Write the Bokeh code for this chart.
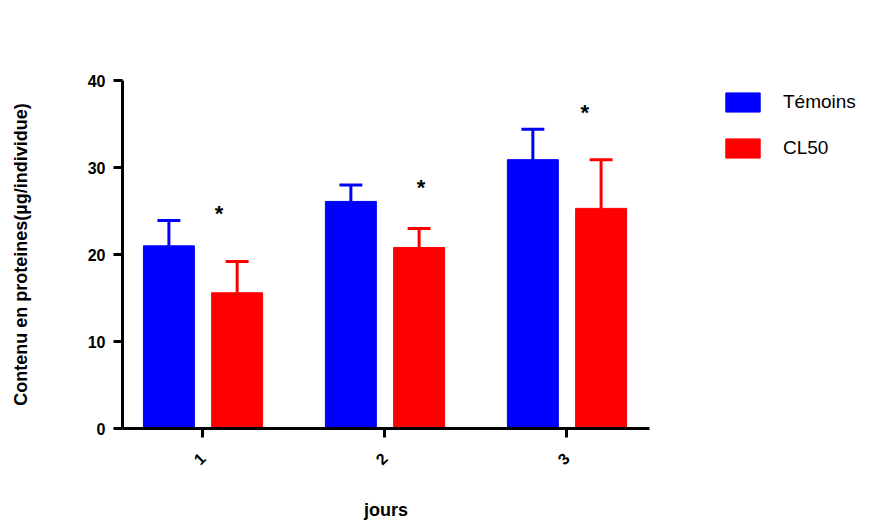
import math
import numpy as np
from bokeh.plotting import figure
from bokeh.models import ColumnDataSource, FixedTicker, Legend, LegendItem, Range1d
from bokeh.core.properties import value
from bokeh.embed import file_html
from bokeh.resources import INLINE

# ---- data ----
days = [1, 2, 3]
day_labels = ["1", "2", "3"]
temoins = [21.0, 26.1, 30.9]
temoins_err = [2.9, 1.9, 3.5]
cl50 = [15.6, 20.8, 25.3]
cl50_err = [3.6, 2.2, 5.6]
star_dx = [0.09, 0.20, 0.10]
star_y = [25.0, 27.9, 36.5]
series_names = ["Témoins", "CL50"]
colors = ["#0000FF", "#FF0000"]

FONT = "Liberation Sans"

p = figure(width=874, height=506, output_backend="svg", toolbar_location=None,
           x_range=Range1d(0.56, 3.456), y_range=Range1d(0, 40),
           frame_width=527, frame_height=348,
           min_border_left=122, min_border_top=80, min_border_right=225, min_border_bottom=78)
p.outline_line_color = None
p.xgrid.visible = False
p.ygrid.visible = False

offsets = [-0.185, 0.19]
bar_w = 0.28
cap_w = 0.126
renderers = []
for vals, errs, off, col in zip([temoins, cl50], [temoins_err, cl50_err], offsets, colors):
    xs = np.array(days, dtype=float) + off
    tops = np.array(vals)
    hi = tops + np.array(errs)
    src = ColumnDataSource(dict(x=xs, top=tops, hi=hi, x0=xs - cap_w / 2, x1=xs + cap_w / 2))
    p.segment(x0="x", y0="top", x1="x", y1="hi", source=src, line_color=col, line_width=3)
    p.segment(x0="x0", y0="hi", x1="x1", y1="hi", source=src, line_color=col, line_width=3)
    r = p.vbar(x="x", top="top", bottom=0, width=bar_w, source=src, fill_color=col, line_color=col)
    renderers.append(r)

# significance stars
ssrc = ColumnDataSource(dict(x=np.array(days) + np.array(star_dx), y=star_y, t=["*"] * 3))
p.text(x="x", y="y", text="t", source=ssrc, text_font=value(FONT), text_font_style="bold",
       text_font_size="22px", text_align="center", text_baseline="middle", y_offset=2)

# axes
for ax in (p.xaxis[0], p.yaxis[0]):
    ax.axis_line_width = 3
    ax.major_tick_line_width = 3
    ax.major_tick_out = 9
    ax.major_tick_in = 0
    ax.minor_tick_line_color = None
    ax.major_label_text_font = FONT
    ax.major_label_text_font_style = "bold"
    ax.major_label_text_font_size = "16px"
    ax.major_label_text_color = "black"
    ax.axis_label_text_font = FONT
    ax.axis_label_text_font_style = "bold"
    ax.axis_label_text_font_size = "18px"
    ax.axis_label_text_color = "black"
    ax.axis_line_color = "black"
    ax.major_tick_line_color = "black"

p.xaxis.ticker = FixedTicker(ticks=days)
p.xaxis.major_label_overrides = {d: l for d, l in zip(days, day_labels)}
p.xaxis.major_label_orientation = math.pi / 4
p.xaxis.major_label_standoff = 18
p.xaxis.axis_label = "jours"
p.xaxis.axis_label_standoff = 27

p.yaxis.ticker = FixedTicker(ticks=[0, 10, 20, 30, 40])
p.yaxis.major_label_standoff = 8
p.yaxis.axis_label = "Contenu en proteines(µg/individue)"
p.yaxis.axis_label_standoff = 54

legend = Legend(items=[LegendItem(label=n, renderers=[r]) for n, r in zip(series_names, renderers)],
                location=(72, 268), glyph_width=43, glyph_height=24, label_standoff=19,
                spacing=22, padding=0, margin=0, border_line_color=None,
                background_fill_alpha=0, label_text_font=FONT, label_text_font_size="19px",
                label_text_color="black", label_height=24)
p.add_layout(legend, "right")

open("out.html", "w").write(file_html(p, INLINE))
